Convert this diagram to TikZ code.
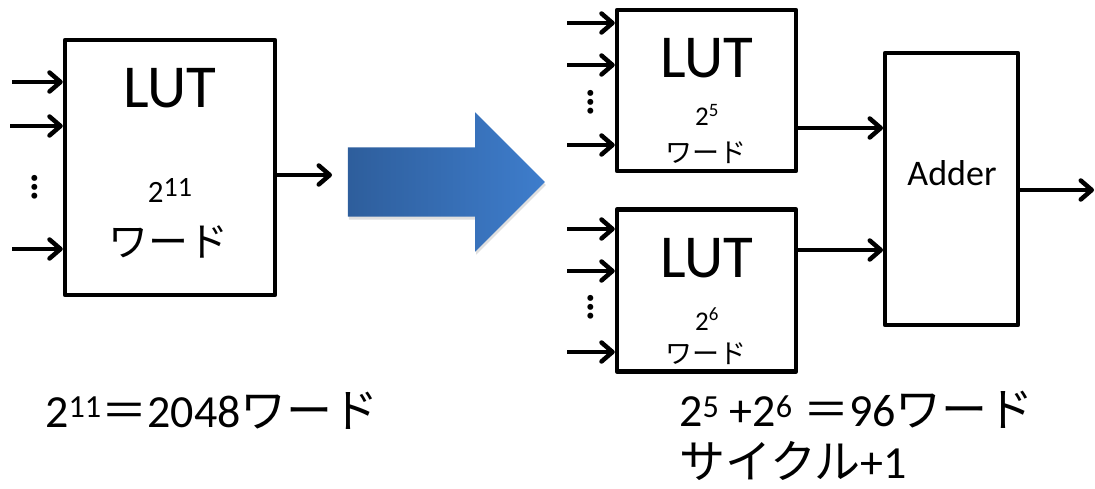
\documentclass[tikz,border=0pt]{standalone}
\usepackage{fontspec}
\setmainfont{Carlito}
\newfontfamily\jp{Noto Sans CJK JP}
\usepackage{tikz}
\usetikzlibrary{shapes.arrows,arrows.meta,shadows,positioning}
\tikzstyle{lutbox} = [rectangle, draw=black, line width=4.5pt, line join=round, fill=white, inner sep=0pt]
\tikzstyle{arrow} = [line width=4.5pt, -{Straight Barb[length=11pt,width=19pt,round]}]
\tikzstyle{vdots} = [inner sep=0pt, font=\fontsize{40}{40}\selectfont\bfseries]
\tikzstyle{lutname} = [anchor=base, inner sep=0pt, font=\fontsize{61}{61}\selectfont]
\tikzstyle{bottomtext} = [inner sep=0pt, font=\fontsize{46}{52}\selectfont]
\tikzstyle{bigarrow} = [single arrow, minimum height=197pt, text height=34.5pt, text depth=34.5pt, text width=0pt, single arrow head extend=35pt, inner sep=0pt, left color=blue1, right color=blue2, drop shadow={shadow xshift=1pt, shadow yshift=-3pt, opacity=0.25}]
\definecolor{blue1}{RGB}{46,94,156}
\definecolor{blue2}{RGB}{62,125,204}

\begin{document}
\begin{tikzpicture}[x=1pt,y=-1pt]
    \useasboundingbox (0,0) rectangle (1095,489);

    % one big table
    \node (lut1) [lutbox, minimum width=210pt, minimum height=255pt] at (170,167.5) {};
    \node (lut1name) [lutname] at (170,108) {LUT};
    \node (lut1size) [anchor=base, font=\fontsize{31}{31}\selectfont] at (170,203) {2\raisebox{6pt}{\fontsize{28}{28}\selectfont 11}};
    \node (lut1word) [anchor=base, font=\jp\fontsize{40}{40}\selectfont] at (168,257) {ワード};
    \coordinate (in1a) at (12,82);
    \coordinate (in1b) at (10,126);
    \coordinate (in1c) at (12,249);
    \node (dots1) [vdots] at (35,187) {\rotatebox{90}{…}};
    \coordinate (out1) at (332,175);

    \draw [arrow] (in1a) -- (in1a -| lut1.west);
    \draw [arrow] (in1b) -- (in1b -| lut1.west);
    \draw [arrow] (in1c) -- (in1c -| lut1.west);
    \draw [arrow] (lut1.east |- out1) -- (out1);

    \node (split) [bigarrow] at (429,182) {};

    % two small tables and the adder
    \node (luta) [lutbox, minimum width=179pt, minimum height=161pt] at (706.5,90.5) {};
    \node (lutb) [lutbox, minimum width=179pt, minimum height=162pt, below=34pt of luta] {};
    \node (adder) [lutbox, minimum width=133pt, minimum height=272pt] at (951.5,189) {};

    \node (lutaname) [lutname] at (707,78) {LUT};
    \node (lutasize) [anchor=base, font=\fontsize{27}{27}\selectfont] at (707,126) {2\textsuperscript{5}};
    \node (lutaword) [anchor=base, font=\jp\fontsize{27}{27}\selectfont] at (706,163) {ワード};
    \node (lutbname) [lutname] at (707,277) {LUT};
    \node (lutbsize) [anchor=base, font=\fontsize{27}{27}\selectfont] at (707,330) {2\textsuperscript{6}};
    \node (lutbword) [anchor=base, font=\jp\fontsize{27}{27}\selectfont] at (706,363) {ワード};
    \node (addername) [anchor=base, font=\fontsize{36}{36}\selectfont] at (952,186) {Adder};

    \coordinate (ina) at (567,23);
    \coordinate (inb) at (567,65);
    \coordinate (inc) at (567,145);
    \coordinate (ind) at (567,229);
    \coordinate (ine) at (567,271);
    \coordinate (inf) at (567,352);
    \node (dotsa) [vdots] at (591,102) {\rotatebox{90}{…}};
    \node (dotsb) [vdots] at (591,307) {\rotatebox{90}{…}};
    \coordinate (suma) at (883,128);
    \coordinate (sumb) at (883,250);
    \coordinate (result) at (1094,190);

    \draw [arrow] (ina) -- (ina -| luta.west);
    \draw [arrow] (inb) -- (inb -| luta.west);
    \draw [arrow] (inc) -- (inc -| luta.west);
    \draw [arrow] (ind) -- (ind -| lutb.west);
    \draw [arrow] (ine) -- (ine -| lutb.west);
    \draw [arrow] (inf) -- (inf -| lutb.west);
    \draw [arrow] (luta.east |- suma) -- (suma);
    \draw [arrow] (lutb.east |- sumb) -- (sumb);
    \draw [arrow] (adder.east |- result) -- (result);

    % word counts
    \node (before) [bottomtext, anchor=base west] at (45,427) {2\textsuperscript{11}{\jp ＝}2048{\jp ワード}};
    \node (after) [bottomtext, anchor=north west, align=left, text depth=0pt] at (679,391) {2\textsuperscript{5} +2\textsuperscript{6} {\jp ＝}96{\jp ワード}\\{\jp サイクル}+1};
\end{tikzpicture}
\end{document}
